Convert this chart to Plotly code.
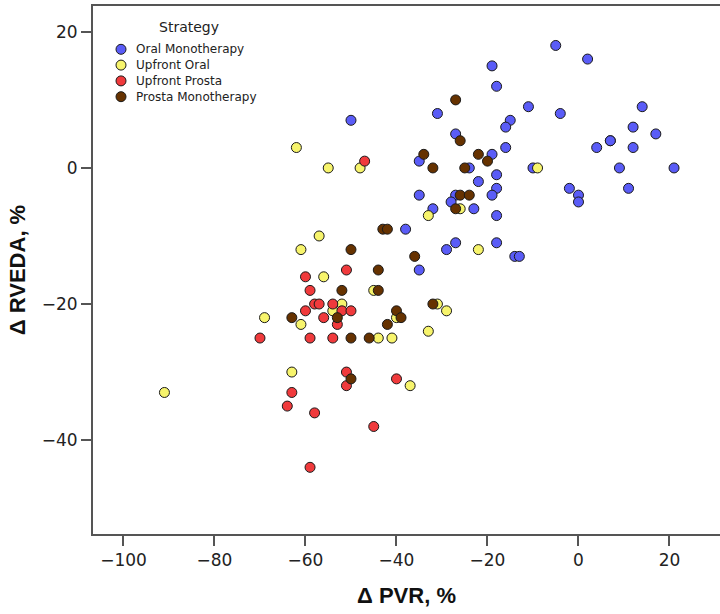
import plotly.graph_objects as go

# Strategy groups: (Δ PVR %, Δ RVEDA %)
oral_mono_x = [-5, 2, -19, -18, -31, -11, -4, 14, -15, -16, 12, 17, -27, 7, 7, 4, 12, -16, -35, -19,
               -24, -18, -22, -18, -10, 9, 21, -2, 0, 0, 11, -35, -27, -19, -28, -32, -23, -18, -38, -27,
               -29, -18, -14, -13, -35, -50]
oral_mono_y = [18, 16, 15, 12, 8, 9, 8, 9, 7, 6, 6, 5, 5, 4, 4, 3, 3, 3, 1, 2,
               0, -1, -2, -3, 0, 0, 0, -3, -4, -5, -3, -4, -4, -4, -5, -6, -6, -7, -9, -11,
               -12, -11, -13, -13, -15, 7]

upfront_oral_x = [-62, -55, -48, -9, -33, -26, -22, -57, -61, -56, -45, -52, -54, -31, -29, -69, -61, -40,
                  -33, -44, -41, -63, -37, -91]
upfront_oral_y = [3, 0, 0, 0, -7, -6, -12, -10, -12, -16, -18, -20, -21, -20, -21, -22, -23, -22,
                  -24, -25, -25, -30, -32, -33]

upfront_prosta_x = [-47, -51, -60, -59, -58, -57, -54, -60, -52, -50, -56, -53, -70, -59, -54, -51, -51,
                    -40, -63, -64, -58, -45, -59]
upfront_prosta_y = [1, -15, -16, -18, -20, -20, -20, -21, -21, -21, -22, -23, -25, -25, -25, -30, -32,
                    -31, -33, -35, -36, -38, -44]

prosta_mono_x = [-27, -26, -34, -22, -20, -32, -25, -26, -24, -27, -43, -42, -36, -50, -44, -52, -44,
                 -32, -40, -63, -53, -39, -42, -50, -46, -50]
prosta_mono_y = [10, 4, 2, 2, 1, 0, 0, -4, -4, -6, -9, -9, -13, -12, -15, -18, -18,
                 -20, -21, -22, -22, -22, -23, -25, -25, -31]

strategy_names = ["Oral Monotherapy", "Upfront Oral", "Upfront Prosta", "Prosta Monotherapy"]
strategy_colors = ["#5a5cf7", "#f7f46c", "#f03a3c", "#663200"]
series_x = [oral_mono_x, upfront_oral_x, upfront_prosta_x, prosta_mono_x]
series_y = [oral_mono_y, upfront_oral_y, upfront_prosta_y, prosta_mono_y]

fig = go.Figure()
for name, xs, ys, col in zip(strategy_names, series_x, series_y, strategy_colors):
    fig.add_trace(go.Scatter(
        x=xs, y=ys, mode="markers", name=name, showlegend=False,
        marker=dict(size=10, color=col, line=dict(color="#1a1a1a", width=1)),
    ))

# Manual legend (compact like the original), placed in plot-area pixels
W_PLOT, H_PLOT, L, T = 627, 528, 93, 6
def px2paper(px, py):
    return (px - L) / W_PLOT, (T + H_PLOT - py) / H_PLOT

tx, ty = px2paper(189, 27)
fig.add_annotation(x=tx, y=ty, xref="paper", yref="paper", text="Strategy", showarrow=False,
                   xanchor="center", yanchor="middle",
                   font=dict(family="DejaVu Sans", size=14, color="#222"))
for i, (name, col) in enumerate(zip(strategy_names, strategy_colors)):
    mx, my = px2paper(121, 49.3 + 15.8 * i)
    fig.add_shape(type="circle", xref="paper", yref="paper", xsizemode="pixel", ysizemode="pixel",
                  xanchor=mx, yanchor=my, x0=-5, x1=5, y0=-5, y1=5,
                  fillcolor=col, line=dict(color="#1a1a1a", width=1))
    lx, _ = px2paper(134, 0)
    fig.add_annotation(x=lx, y=my, xref="paper", yref="paper", text=name, showarrow=False,
                       xanchor="left", yanchor="middle",
                       font=dict(family="DejaVu Sans", size=12, color="#222"))

axis_font = dict(family="DejaVu Sans", size=17, color="#222")
title_font = dict(family="Liberation Sans", size=22, color="#111")

fig.update_layout(
    width=720, height=614,
    margin=dict(l=93, r=0, t=6, b=80),
    paper_bgcolor="white", plot_bgcolor="white",
    showlegend=False,
    xaxis=dict(
        range=[-106.7, 31.1], tickvals=[-100, -80, -60, -40, -20, 0, 20],
        ticktext=["\u2212100", "\u221280", "\u221260", "\u221240", "\u221220", "0", "20"],
        showgrid=False, zeroline=False, showline=True, linecolor="#555", linewidth=2,
        mirror=True, ticks="outside", ticklen=10, tickwidth=1.5, tickcolor="#555",
        tickfont=axis_font,
        title=dict(text="<b>\u0394 PVR, %</b>", font=title_font, standoff=18),
    ),
    yaxis=dict(
        range=[-53.8, 23.8], tickvals=[-40, -20, 0, 20],
        ticktext=["\u221240", "\u221220", "0", "20"],
        showgrid=False, zeroline=False, showline=True, linecolor="#555", linewidth=2,
        ticks="outside", ticklen=10, tickwidth=1.5, tickcolor="#555",
        tickfont=axis_font,
        title=dict(text="<b>\u0394 RVEDA, %</b>", font=title_font, standoff=10),
    ),
)

fig.write_html("out.html")
